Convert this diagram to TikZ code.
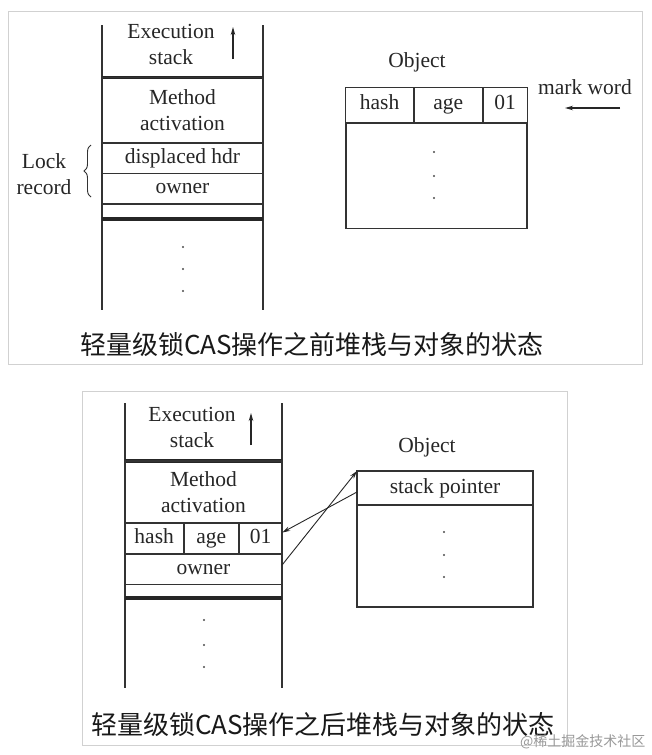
\documentclass[tikz,border=0pt]{standalone}
\usepackage{fontspec}
\setmainfont{Liberation Serif}
\newfontfamily\cjk{Noto Sans CJK SC}
\usetikzlibrary{arrows.meta,positioning,matrix,decorations.pathreplacing}

\begin{document}
\begin{tikzpicture} [x=1pt, y=-1pt,
		 txt/.style={font=\fontsize{21.5}{25.5}\selectfont, align=center, text=black!85, inner sep=0pt},
		 cell/.style={txt, rectangle, draw=black!80, line width=1.1pt, outer sep=0pt},
		 wall/.style={draw=black!80, line width=1.1pt},
		 sep/.style={draw=black!85, line width=3.5pt},
		 panel/.style={draw=black!18, line width=1pt},
		 dot/.style={circle, fill=black!70, inner sep=0pt, minimum size=2.4pt},
		 dir/.style={draw=black!85, line width=1.1pt, -{Stealth[length=8pt,width=4.5pt]}},
		 caption/.style={font=\cjk\fontsize{26}{30}\selectfont, text=black!90},
		 word/.style={matrix of nodes, row sep=-\pgflinewidth, column sep=-\pgflinewidth, inner sep=0pt, outer sep=0pt,
		 nodes={cell, text height=15pt, text depth=6pt, minimum height=35pt},
		 nodes in empty cells, ampersand replacement=\&}]
\fill[white] (0,0) rectangle (651,755);
\useasboundingbox (0,0) rectangle (651,755);

% before CAS
\draw[panel] (8,11) rectangle (642,364);
\draw[wall] (102,25) -- (102,310) (263,25) -- (263,310);
\node[txt] (exec1) at (171,44.5) {Execution\\stack};
\coordinate (up1) at (233,59);
\coordinate (top1) at (233,27);
\draw[dir] (up1) -- (top1);
\draw[sep] (102,77.5) -- (263,77.5);
\node[cell, minimum width=161pt, minimum height=65.5pt, anchor=north west] (meth1) at (102,77.5) {Method\\activation};
\node[cell, minimum width=161pt, minimum height=30.5pt, below=0pt of meth1] (hdr1) {displaced hdr};
\node[cell, minimum width=161pt, minimum height=30.5pt, below=0pt of hdr1] (own1) {owner};
\node[cell, minimum width=161pt, minimum height=15pt, below=0pt of own1] (free1) {};
\draw[sep] (free1.south west) -- (free1.south east);
\foreach \y [count=\i] in {247,269,291}
	\node[dot] (sdot1-\i) at (183,\y) {};
\node[txt] (lock1) at (44,174) {Lock\\record};
\draw[wall, line width=0.9pt, decorate, decoration={brace, amplitude=7pt}] (91,197) -- (91,145);

\node[txt] (objname1) at (417,62) {Object};
\matrix [word, anchor=north west,
		 column 1/.style = {nodes={minimum width=68pt}},
		 column 2/.style = {nodes={minimum width=68pt}},
		 column 3/.style = {nodes={minimum width=44.4pt}},
	] (mark1) at (345,87) {
hash\& age\& 01\\
};
\node[cell, minimum width=181pt, minimum height=105pt, below=0pt of mark1] (body1) {};
\foreach \y [count=\i] in {152,176,198}
	\node[dot] (odot1-\i) at (434,\y) {};
\node[txt] (markword1) at (585,87) {mark word};
\coordinate (tail1) at (620,108);
\coordinate (tip1) at (565,108);
\draw[dir] (tail1) -- (tip1);
\node[caption] (cap1) at (312,345) {轻量级锁CAS操作之前堆栈与对象的状态};

% after CAS
\draw[panel] (82,391) rectangle (567,745);
\draw[wall] (125,403) -- (125,688) (282,403) -- (282,688);
\node[txt] (exec2) at (192,427.5) {Execution\\stack};
\coordinate (up2) at (251,445);
\coordinate (top2) at (251,413);
\draw[dir] (up2) -- (top2);
\draw[sep] (125,461) -- (282,461);
\node[cell, minimum width=157pt, minimum height=62pt, anchor=north west] (meth2) at (125,461) {Method\\activation};
\matrix [word, below=0pt of meth2,
		 nodes={minimum height=30pt, text depth=5pt},
		 column 1/.style = {nodes={minimum width=58.8pt}},
		 column 2/.style = {nodes={minimum width=54pt}},
		 column 3/.style = {nodes={minimum width=43.2pt}},
	] (mark2) {
hash\& age\& 01\\
};
\node[cell, minimum width=157pt, minimum height=30pt, below=0pt of mark2] (own2) {owner};
\node[cell, minimum width=157pt, minimum height=14pt, below=0pt of own2] (free2) {};
\draw[sep] (free2.south west) -- (free2.south east);
\foreach \y [count=\i] in {620,645,667}
	\node[dot] (sdot2-\i) at (204,\y) {};

\node[txt] (objname2) at (427,447) {Object};
\node[cell, minimum width=176pt, minimum height=34pt, anchor=north west] (ptr2) at (357,471) {stack pointer};
\node[cell, minimum width=176pt, minimum height=102pt, below=0pt of ptr2] (body2) {};
\foreach \y [count=\i] in {532,555,577}
	\node[dot] (odot2-\i) at (444,\y) {};
\draw[dir, line width=0.9pt] ([yshift=-4pt]ptr2.west) -- ([yshift=6pt]mark2-1-3.east);
\draw[dir, line width=0.9pt] ([yshift=4pt]own2.east) -- (ptr2.north west);
\node[caption] (cap2) at (323,725) {轻量级锁CAS操作之后堆栈与对象的状态};
\node[font=\cjk\fontsize{14}{16}\selectfont, text=black!40, anchor=east] (credit) at (649,742) {@稀土掘金技术社区};
\end{tikzpicture}
\end{document}
